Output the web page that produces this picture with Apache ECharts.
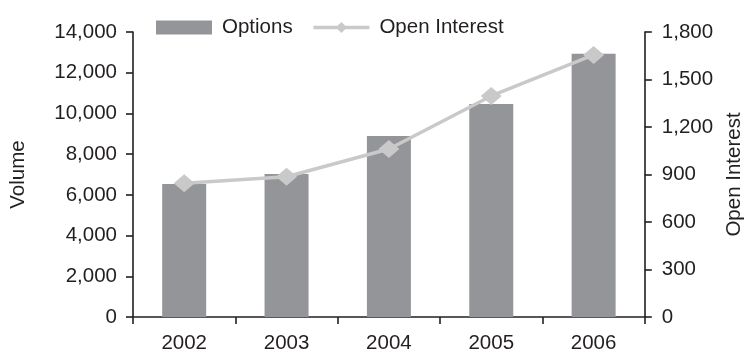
<!DOCTYPE html>
<html>
<head>
<meta charset="utf-8">
<script src="https://cdn.jsdelivr.net/npm/echarts@6/dist/echarts.min.js"></script>
<style>
html,body{margin:0;padding:0;background:#fff;}
#chart{width:753px;height:354px;}
</style>
</head>
<body>
<div id="chart"></div>
<script>
const years = ['2002', '2003', '2004', '2005', '2006'];
const optionsVolume = [6530, 7020, 8890, 10460, 12930];
const openInterest = [844, 886, 1061, 1396, 1655];

const textColor = '#231f20';
const fontFamily = '"Liberation Sans", Arial, sans-serif';
const fs = 20.5;

const chart = echarts.init(document.getElementById('chart'), null, {renderer: 'canvas'});
chart.setOption({
  animation: false,
  backgroundColor: '#ffffff',
  textStyle: {fontFamily: fontFamily, color: textColor},
  grid: {left: 130, right: 100, top: 32, bottom: 37, containLabel: false},
  legend: {
    left: 151, top: 12, padding: 5,
    itemWidth: 56, itemHeight: 14, itemGap: 19,
    lineStyle: {width: 3.5},
    textStyle: {fontSize: fs, color: textColor, fontFamily: fontFamily, padding: [0, 0, 0, 5]},
    data: [
      {name: 'Options', icon: 'rect'},
      {name: 'Open Interest', lineStyle: {width: 3.5, color: '#c9c9c9'}}
    ]
  },
  xAxis: {
    type: 'category',
    data: years,
    axisLine: {lineStyle: {color: textColor, width: 1.6}},
    axisTick: {show: true, length: 7, lineStyle: {color: textColor, width: 1.6}},
    axisLabel: {fontSize: fs, color: textColor, margin: 16, fontFamily: fontFamily},
    splitLine: {show: false}
  },
  yAxis: [
    {
      type: 'value', min: 0, max: 14000, interval: 2000,
      name: 'Volume', nameLocation: 'middle', nameGap: 104,
      nameTextStyle: {fontSize: fs, color: textColor, fontFamily: fontFamily},
      axisLine: {show: true, lineStyle: {color: textColor, width: 1.6}},
      axisTick: {show: true, length: 7, lineStyle: {color: textColor, width: 1.6}},
      axisLabel: {fontSize: fs, color: textColor, margin: 16, fontFamily: fontFamily,
        formatter: v => v.toLocaleString('en-US')},
      splitLine: {show: false}
    },
    {
      type: 'value', min: 0, max: 1800, interval: 300, position: 'right',
      name: 'Open Interest', nameLocation: 'middle', nameGap: 76,
      nameTextStyle: {fontSize: fs, color: textColor, fontFamily: fontFamily},
      axisLine: {show: true, lineStyle: {color: textColor, width: 1.6}},
      axisTick: {show: true, length: 7, lineStyle: {color: textColor, width: 1.6}},
      axisLabel: {fontSize: fs, color: textColor, margin: 17, fontFamily: fontFamily,
        formatter: v => v.toLocaleString('en-US')},
      splitLine: {show: false}
    }
  ],
  series: [
    {
      name: 'Options', type: 'bar', yAxisIndex: 0,
      data: optionsVolume, barWidth: 44,
      itemStyle: {color: '#939598'}
    },
    {
      name: 'Open Interest', type: 'line', yAxisIndex: 1,
      data: openInterest,
      symbol: 'diamond', symbolSize: [21, 18],
      lineStyle: {color: '#c9c9c9', width: 3.5},
      itemStyle: {color: '#c9c9c9'}
    }
  ]
});
</script>
</body>
</html>
